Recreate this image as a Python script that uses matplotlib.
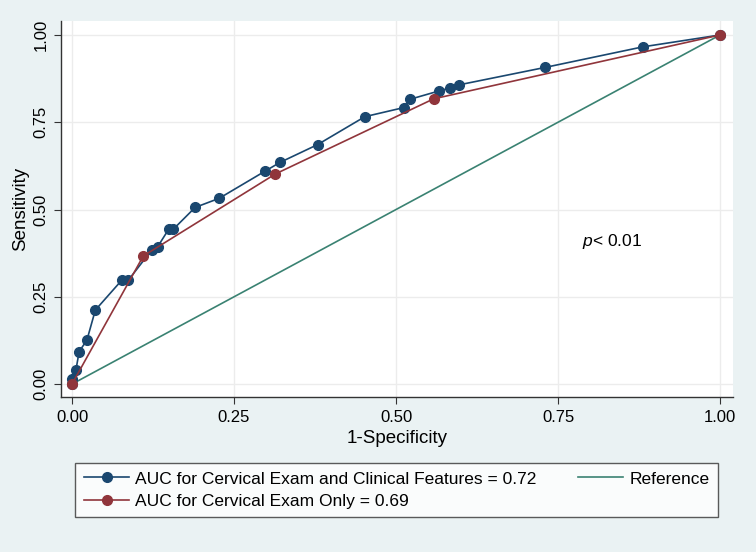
import matplotlib
matplotlib.use("Agg")
import matplotlib.pyplot as plt

plt.rcParams['font.family'] = ['Liberation Sans', 'DejaVu Sans']
plt.rcParams['mathtext.fontset'] = 'custom'
plt.rcParams['mathtext.it'] = 'Liberation Sans:italic'
plt.rcParams['mathtext.rm'] = 'Liberation Sans'

# ROC points (1-specificity, sensitivity)
fpr_full = [0.0, 0.0, 0.006, 0.011, 0.023, 0.036, 0.077, 0.087, 0.123, 0.132,
            0.149, 0.156, 0.19, 0.227, 0.298, 0.321, 0.379, 0.452, 0.512,
            0.522, 0.567, 0.583, 0.597, 0.730, 0.881, 1.0]
tpr_full = [0.0, 0.014, 0.04, 0.093, 0.126, 0.212, 0.298, 0.298, 0.384, 0.393,
            0.443, 0.443, 0.506, 0.532, 0.610, 0.635, 0.686, 0.766, 0.792,
            0.816, 0.840, 0.848, 0.857, 0.907, 0.966, 1.0]

fpr_exam = [0.0, 0.11, 0.314, 0.558, 1.0]
tpr_exam = [0.0, 0.367, 0.602, 0.817, 1.0]

ref = [0.0, 1.0]
ticks = [0.0, 0.25, 0.5, 0.75, 1.0]
tick_labels = ['0.00', '0.25', '0.50', '0.75', '1.00']

navy = '#1a476f'
maroon = '#90353b'
teal = '#3a8272'

fig = plt.figure(figsize=(7.56, 5.52), dpi=100)
fig.patch.set_facecolor('#eaf2f3')
ax = fig.add_axes([61 / 756, 1 - 397 / 552, (733 - 61) / 756, (397 - 21) / 552])
ax.set_facecolor('white')

l1, = ax.plot(fpr_full, tpr_full, '-o', color=navy, lw=1.2, ms=7, zorder=3,
              label='AUC for Cervical Exam and Clinical Features = 0.72')
l2, = ax.plot(fpr_exam, tpr_exam, '-o', color=maroon, lw=1.2, ms=7, zorder=4,
              label='AUC for Cervical Exam Only = 0.69')
l3, = ax.plot(ref, ref, '-', color=teal, lw=1.2, zorder=2, label='Reference')

ax.set_xlim(-0.017, 1.020)
ax.set_ylim(-0.037, 1.040)
ax.set_xticks(ticks)
ax.set_xticklabels(tick_labels)
ax.set_yticks(ticks)
ax.set_yticklabels(tick_labels, rotation=90, va='center')
ax.tick_params(labelsize=12, length=5, color='#333333', pad=4)
ax.grid(True, color='#ececec', lw=1)
ax.set_axisbelow(True)
for s in ['top', 'right']:
    ax.spines[s].set_visible(False)
for s in ['left', 'bottom']:
    ax.spines[s].set_color('#333333')
    ax.spines[s].set_linewidth(1)

ax.set_xlabel('1-Specificity', fontsize=13.5, labelpad=4)
ax.set_ylabel('Sensitivity', fontsize=13.5, labelpad=3)

ax.text(0.787, 0.407, r'$p$< 0.01', fontsize=12.5, va='center', ha='left')

leg = fig.legend(handles=[l1, l2, l3], ncol=2, loc='center', mode='expand',
                 bbox_to_anchor=(66.7 / 756, 1 - 521 / 552, (727 - 66.7) / 756, 62 / 552),
                 fontsize=12.5, frameon=True, fancybox=False, edgecolor='#333333',
                 handlelength=2.6, handletextpad=0.35, labelspacing=0.4,
                 borderpad=0.5)
leg.get_frame().set_linewidth(1)
leg.get_frame().set_facecolor('white')

fig.savefig('out.png', dpi=100, facecolor=fig.get_facecolor())
